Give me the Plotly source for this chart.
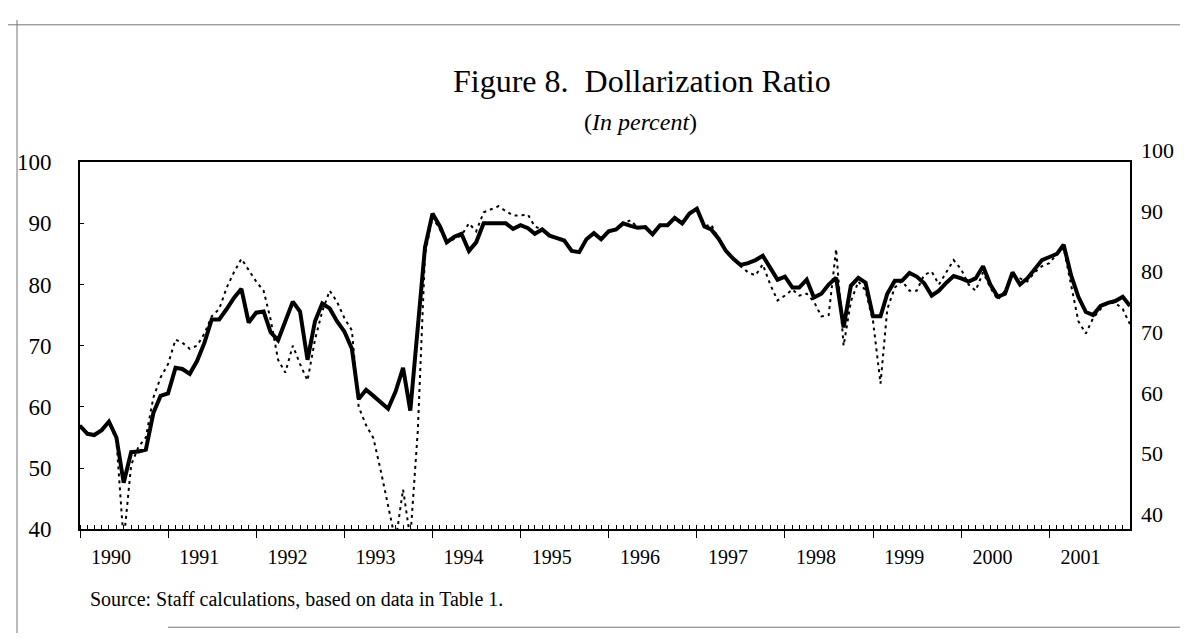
import plotly.graph_objects as go
import pandas as pd

# monthly observations, Jan 1990 - Dec 2001
months = pd.date_range("1990-01-01", periods=144, freq="MS")
years = list(range(1990, 2002))
y_ticks = [40, 50, 60, 70, 80, 90, 100]

solid_ratio = [
    56.9, 55.6, 55.4, 56.2, 57.6, 55.0, 47.6, 52.6, 52.7, 53.0, 59.0, 61.8,   # 1990
    62.2, 66.4, 66.2, 65.4, 67.5, 70.5, 74.3, 74.3, 76.0, 77.8, 79.3, 73.8,   # 1991
    75.4, 75.6, 72.2, 70.9, 74.0, 77.2, 75.6, 67.7, 74.0, 76.9, 76.1, 74.0,   # 1992
    72.3, 69.5, 61.3, 62.8, 61.8, 60.8, 59.7, 62.5, 66.4, 59.4, 73.0, 86.1,   # 1993
    91.6, 89.5, 86.9, 87.8, 88.3, 85.5, 86.9, 90.0, 90.0, 90.0, 90.0, 89.1,   # 1994
    89.7, 89.2, 88.3, 89.0, 88.0, 87.6, 87.2, 85.5, 85.3, 87.4, 88.4, 87.4,   # 1995
    88.7, 89.0, 90.0, 89.6, 89.3, 89.4, 88.2, 89.7, 89.7, 90.9, 90.0, 91.6,   # 1996
    92.4, 89.5, 89.0, 87.5, 85.5, 84.2, 83.2, 83.5, 84.0, 84.7, 82.6, 80.8,   # 1997
    81.3, 79.5, 79.5, 80.8, 77.9, 78.5, 80.0, 81.1, 73.0, 79.8, 81.1, 80.3,   # 1998
    74.8, 74.8, 78.5, 80.6, 80.6, 81.9, 81.3, 80.2, 78.2, 79.0, 80.3, 81.4,   # 1999
    81.0, 80.5, 81.0, 83.0, 80.0, 78.0, 78.5, 82.0, 80.0, 81.0, 82.5, 84.0,   # 2000
    84.5, 85.0, 86.5, 81.5, 78.0, 75.5, 75.0, 76.5, 77.0, 77.3, 78.0, 76.5,   # 2001
]

dotted_ratio = [
    57.0, 55.5, 55.4, 56.3, 57.5, 54.5, 38.0, 50.5, 53.5, 55.0, 61.5, 64.8,   # 1990
    67.0, 71.0, 70.5, 69.5, 70.0, 72.0, 74.8, 76.0, 79.5, 82.0, 84.2, 82.4,   # 1991
    80.5, 79.0, 74.3, 67.7, 65.6, 70.0, 67.0, 64.3, 71.0, 75.6, 79.0, 77.2,   # 1992
    74.5, 72.5, 60.0, 57.0, 54.9, 49.5, 44.0, 38.0, 46.5, 38.5, 56.0, 85.0,   # 1993
    91.0, 89.0, 86.9, 87.5, 88.0, 90.0, 88.7, 91.8, 92.3, 92.8, 92.0, 91.3,   # 1994
    91.3, 91.4, 89.5, 89.0, 88.0, 87.6, 87.2, 85.5, 85.3, 87.4, 88.4, 87.4,   # 1995
    88.7, 89.0, 90.0, 90.5, 89.3, 89.4, 88.2, 89.7, 89.7, 90.9, 90.0, 91.6,   # 1996
    92.4, 89.5, 89.8, 87.5, 85.5, 84.2, 83.0, 82.0, 81.5, 83.3, 80.0, 77.4,   # 1997
    78.2, 79.2, 78.2, 78.5, 77.2, 74.8, 75.0, 85.8, 70.0, 77.2, 80.5, 79.0,   # 1998
    74.0, 63.8, 76.0, 79.5, 80.6, 79.0, 79.0, 81.6, 82.1, 80.0, 82.0, 84.0,   # 1999
    82.5, 80.0, 79.0, 82.0, 79.5, 77.5, 79.0, 81.5, 81.0, 80.5, 82.0, 83.0,   # 2000
    83.5, 85.0, 86.0, 80.0, 74.0, 72.0, 74.5, 76.0, 77.0, 77.0, 76.0, 73.5,   # 2001
]

W, H = 1188, 638
L, R = 72, 1122          # plot frame in pixels
TOP, BOT = 148, 530


def fx(px):
    return (px - L) / (R - L)


def fy(py):
    return 1 - py / H


serif = "Liberation Serif, Times New Roman, serif"

fig = go.Figure()
fig.add_trace(go.Scatter(x=months, y=dotted_ratio, mode="lines",
                         line=dict(color="black", width=2, dash="3px,4px"),
                         hoverinfo="skip"))
fig.add_trace(go.Scatter(x=months, y=solid_ratio, mode="lines",
                         line=dict(color="black", width=4),
                         hoverinfo="skip"))
# empty traces so the label-only axes get drawn
fig.add_trace(go.Scatter(x=[months[0]], y=[None], xaxis="x2", mode="lines",
                         hoverinfo="skip"))
fig.add_trace(go.Scatter(x=[months[0]], y=[None], yaxis="y2", mode="lines",
                         hoverinfo="skip"))

year_starts = [f"{y}-01-01" for y in years]
year_mids = [f"{y}-05-10" for y in years]

fig.update_layout(
    width=W, height=H,
    margin=dict(l=L, r=W - R, t=0, b=0),
    paper_bgcolor="white", plot_bgcolor="rgba(0,0,0,0)",
    showlegend=False,
    font=dict(family=serif, color="black", size=20),
    xaxis=dict(
        range=[months[0], months[-1]],
        showgrid=False, zeroline=False,
        showline=True, linecolor="black", linewidth=2, mirror=True,
        tickvals=year_starts, showticklabels=False,
        ticks="outside", ticklen=7, tickwidth=1, tickcolor="black",
        minor=dict(dtick="M1", ticks="inside", ticklen=4, tickcolor="black", tickwidth=1),
    ),
    xaxis2=dict(
        overlaying="x", anchor="y", side="bottom",
        range=[months[0], months[-1]],
        showgrid=False, zeroline=False, showline=False,
        tickvals=year_mids, ticktext=[str(y) for y in years],
        ticks="", ticklabelstandoff=14,
        tickfont=dict(size=20),
    ),
    yaxis=dict(
        domain=[fy(BOT), fy(TOP)],
        range=[40, 100],
        tickvals=y_ticks,
        showgrid=False, zeroline=False,
        showline=True, linecolor="black", linewidth=2, mirror=True,
        ticks="inside", ticklen=4, tickcolor="black",
        ticklabelstandoff=22,
        tickfont=dict(size=23),
    ),
    yaxis2=dict(
        domain=[fy(514), fy(136)],
        range=[40, 100],
        tickvals=y_ticks,
        side="right", anchor="x",
        showgrid=False, zeroline=False, showline=False,
        ticks="", ticklabelstandoff=10,
        tickfont=dict(size=22),
    ),
)

fig.add_annotation(text="Figure 8.\u00a0 Dollarization Ratio",
                   x=fx(634), y=fy(64), xref="paper", yref="paper",
                   showarrow=False, xanchor="center", yanchor="middle",
                   font=dict(size=32))
fig.add_annotation(text="(<i>In percent</i>)",
                   x=fx(632), y=fy(106), xref="paper", yref="paper",
                   showarrow=False, xanchor="center", yanchor="middle",
                   font=dict(size=24))
fig.add_annotation(text="Source: Staff calculations, based on data in Table 1.",
                   x=fx(80), y=fy(603), xref="paper", yref="paper",
                   showarrow=False, xanchor="left", yanchor="middle",
                   font=dict(size=20))

# faint scan border around the figure
border = dict(color="#777777", width=1)
fig.add_shape(type="line", xref="paper", yref="paper",
              x0=fx(0), x1=fx(W), y0=fy(5), y1=fy(5), line=border)
fig.add_shape(type="line", xref="paper", yref="paper",
              x0=fx(9), x1=fx(9), y0=fy(0), y1=fy(H), line=border)
fig.add_shape(type="line", xref="paper", yref="paper",
              x0=fx(160), x1=fx(W), y0=fy(632), y1=fy(632), line=border)

fig.write_html("out.html")
